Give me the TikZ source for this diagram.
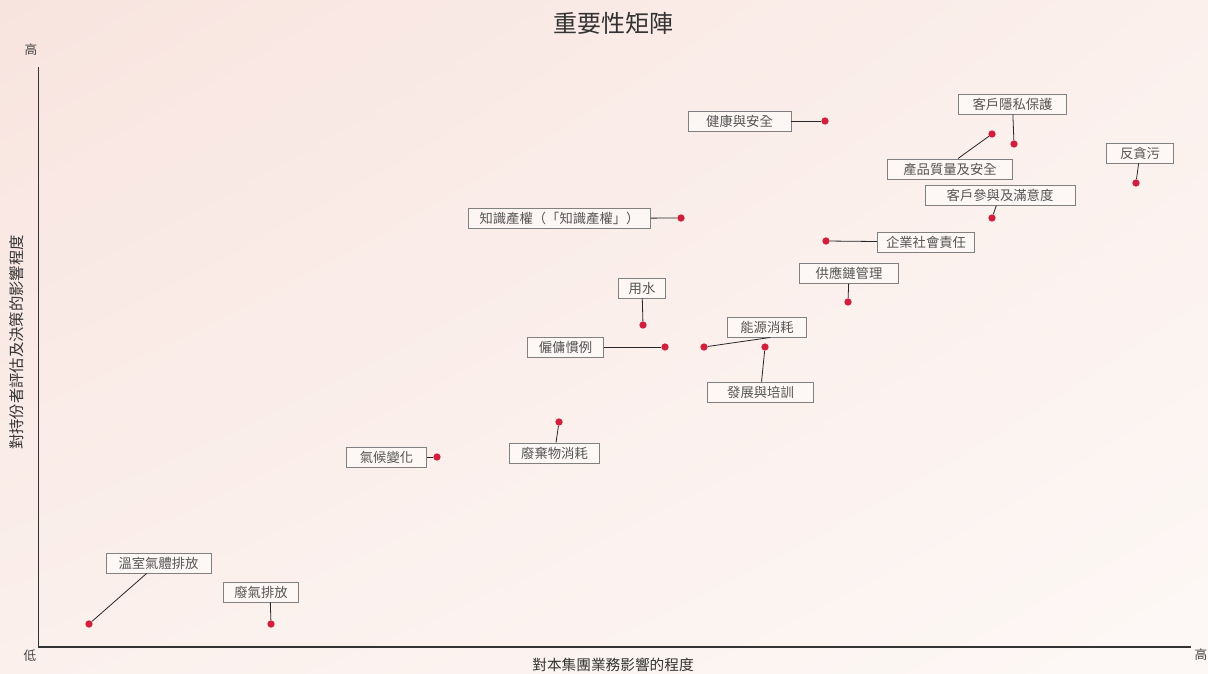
\documentclass[tikz,border=0pt]{standalone}
\usepackage{fontspec}
\setmainfont{Noto Sans CJK TC}
\usepackage{tikz}
\usepackage{xcolor}
\usetikzlibrary{shadings}
\definecolor{bgA}{HTML}{F8E4DF}
\definecolor{bgM}{HTML}{FBF0EC}
\definecolor{bgB}{HTML}{FDF8F6}
\definecolor{dotred}{HTML}{D21F3C}
\definecolor{txtgray}{HTML}{555555}
\definecolor{boxgray}{HTML}{808080}

\begin{document}
\begin{tikzpicture}[x=0.75pt, y=-0.75pt,
        lbl/.style={draw=boxgray, line width=0.7pt, fill=white, fill opacity=0.5, text opacity=1, text=txtgray,
            font=\fontsize{10}{12}\selectfont, inner sep=0pt, minimum height=15pt, minimum width=#1*0.75pt},
        pt/.style={circle, fill=dotred, inner sep=0pt, minimum size=5.5pt},
        lead/.style={black!85, line width=0.6pt},
        axis/.style={black!80, line width=0.9pt},
        tick/.style={text=txtgray!80!black, font=\fontsize{9.5}{11}\selectfont},
        axtitle/.style={text=black!80, font=\fontsize{#1}{13}\selectfont}]
            \shade[upper left=bgA, upper right=bgM, lower left=bgM, lower right=bgB]
                (0,0) rectangle (1208,674);                  %Hintergrund
            \useasboundingbox (0,0) rectangle (1208,674);
            \node[font=\fontsize{18}{20}\selectfont, text=black!80] (title) at (613,23) {重要性矩陣};
            % Achsen
            \coordinate (ytop) at (38.5,67);
            \coordinate (origin) at (38.5,647);
            \coordinate (xend) at (1191,647);
            \draw[axis] (ytop) -- (origin) -- (xend);
            \node[tick] (yhigh) at (31,50) {高};
            \node[tick] (low) at (30,656) {低};
            \node[tick] (xhigh) at (1201,655) {高};
            \node[axtitle=11] (xlabel) at (613,665) {對本集團業務影響的程度};
            \node[axtitle=11.5, rotate=90] (ylabel) at (17,342.5) {對持份者評估及決策的影響程度};
            % Themen
            \node[lbl=103] (health) at (739.5,121) {健康與安全};
            \node[pt] (health-d) at (825,121) {};
            \draw[lead] (health-d) -- (health);
            \node[lbl=108] (privacy) at (1012.5,104) {客戶隱私保護};
            \node[pt] (privacy-d) at (1014,144) {};
            \draw[lead] (privacy-d) -- (privacy);
            \node[lbl=125] (quality) at (950,169) {產品質量及安全};
            \node[pt] (quality-d) at (992,134) {};
            \draw[lead] (quality-d) -- ([xshift=6pt]quality.north);
            \node[lbl=67] (corrupt) at (1140,153) {反貪污};
            \node[pt] (corrupt-d) at (1136,183) {};
            \draw[lead] (corrupt-d) -- (corrupt);
            \node[lbl=150] (customer) at (1000,195) {客戶參與及滿意度};
            \node[pt] (customer-d) at (992,218) {};
            \draw[lead] (customer-d) -- (customer);
            \node[lbl=182] (ip) at (559.5,218.5) {知識產權（「知識產權」）};
            \node[pt] (ip-d) at (681,218) {};
            \draw[lead] (ip-d) -- (ip);
            \node[lbl=97] (csr) at (926,242) {企業社會責任};
            \node[pt] (csr-d) at (826,241) {};
            \draw[lead] (csr-d) -- (csr);
            \node[lbl=99] (supply) at (849,273.5) {供應鏈管理};
            \node[pt] (supply-d) at (848,302) {};
            \draw[lead] (supply-d) -- (supply);
            \node[lbl=47] (water) at (642,288) {用水};
            \node[pt] (water-d) at (643,325) {};
            \draw[lead] (water-d) -- (water);
            \node[lbl=76] (labour) at (565.5,347) {僱傭慣例};
            \node[pt] (labour-d) at (665,347) {};
            \draw[lead] (labour-d) -- (labour);
            \node[lbl=79] (energy) at (767,327) {能源消耗};
            \node[pt] (energy-d) at (704,347) {};
            \draw[lead] (energy-d) -- ([xshift=2.5pt]energy.south);
            \node[lbl=106] (training) at (760.5,392) {發展與培訓};
            \node[pt] (training-d) at (765,347) {};
            \draw[lead] (training-d) -- (training);
            \node[lbl=90] (waste) at (554.5,453) {廢棄物消耗};
            \node[pt] (waste-d) at (559,422) {};
            \draw[lead] (waste-d) -- (waste);
            \node[lbl=80] (climate) at (386.5,457) {氣候變化};
            \node[pt] (climate-d) at (437,457) {};
            \draw[lead] (climate-d) -- (climate);
            \node[lbl=105] (ghg) at (158.5,563) {溫室氣體排放};
            \node[pt] (ghg-d) at (89,624) {};
            \draw[lead] (ghg-d) -- (ghg);
            \node[lbl=75] (exhaust) at (261,592) {廢氣排放};
            \node[pt] (exhaust-d) at (271,624) {};
            \draw[lead] (exhaust-d) -- ([xshift=7pt]exhaust.south);
        \end{tikzpicture}
\end{document}
